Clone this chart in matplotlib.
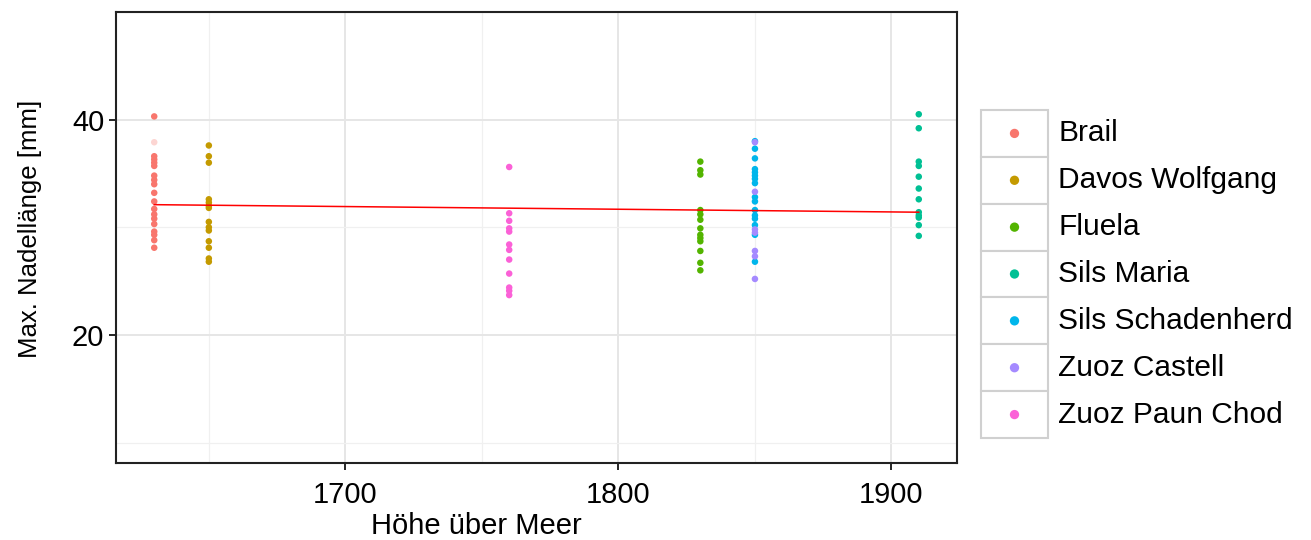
import numpy as np
import matplotlib.pyplot as plt
from matplotlib.patches import Rectangle

plt.rcParams['font.family'] = ['Liberation Sans', 'DejaVu Sans']

# Data
sites = ["Brail", "Davos Wolfgang", "Fluela", "Sils Maria",
         "Sils Schadenherd", "Zuoz Castell", "Zuoz Paun Chod"]
colors = ["#F8766D", "#C49A00", "#53B400", "#00C094",
          "#00B6EB", "#A58AFF", "#FB61D7"]
heights = [1630, 1650, 1830, 1910, 1850, 1850, 1760]

brail = [40.3, 36.6, 36.3, 36.0, 35.7, 34.8, 34.4, 34.0, 33.2, 32.4,
         31.7, 31.2, 30.8, 30.3, 29.6, 29.3, 28.8, 28.1]
brail_faint = [37.9]
davos = [37.6, 36.6, 36.0, 32.6, 32.3, 32.0, 31.8, 30.5, 30.0, 29.7, 28.7,
         28.1, 27.1, 26.8]
fluela = [36.1, 35.3, 34.9, 31.6, 31.2, 30.7, 29.9, 29.3, 29.0, 28.7, 27.8,
          26.7, 26.0]
sils_maria = [40.5, 39.2, 36.1, 35.7, 34.7, 33.6, 32.6, 31.4, 31.1, 30.9,
              30.2, 29.2]
sils_schaden = [38.0, 37.3, 36.4, 35.4, 35.1, 34.8, 34.5, 34.1, 32.8, 32.4,
                31.6, 31.1, 30.8, 30.2, 29.3, 26.8]
zuoz_castell = [37.9, 33.3, 29.8, 29.5, 27.8, 27.3, 25.2]
zuoz_paun = [35.6, 31.3, 30.6, 29.9, 29.6, 28.4, 27.9, 27.0, 25.7, 24.4,
             24.1, 23.7]
values = [brail, davos, fluela, sils_maria, sils_schaden, zuoz_castell, zuoz_paun]

# regression line as drawn in the chart
fit_slope = -0.0025
fit_at_1630 = 32.1

fig = plt.figure(figsize=(13.11, 5.4), dpi=100)
ax = fig.add_axes([116 / 1311, 77 / 540, 841 / 1311, 451 / 540])

for name, col, h, vals in zip(sites, colors, heights, values):
    ax.scatter([h] * len(vals), vals, s=22, color=col, edgecolors="none", zorder=3)
ax.scatter([heights[0]] * len(brail_faint), brail_faint, s=22, color=colors[0],
           alpha=0.3, edgecolors="none", zorder=3)

xs = np.array([min(heights), max(heights)])
ax.plot(xs, fit_at_1630 + fit_slope * (xs - 1630), color="red", linewidth=1.1, zorder=4)

ax.set_xlim(1616, 1924)
ax.set_ylim(8.1, 49.9)
ax.set_xticks([1700, 1800, 1900])
ax.set_yticks([20, 40])
ax.set_xticks([1650, 1750, 1850], minor=True)
ax.set_yticks([10, 30, 50], minor=True)
ax.grid(True, which="major", color="#E6E6E6", linewidth=1.4, zorder=0)
ax.grid(True, which="minor", color="#F0F0F0", linewidth=0.9, zorder=0)
ax.tick_params(which="minor", length=0)
ax.tick_params(which="major", length=5, width=1.2, labelsize=21, color="black")
ax.tick_params(axis="x", pad=8)
for sp in ax.spines.values():
    sp.set_linewidth(1.5)
    sp.set_color("#222222")
ax.set_xlabel("Höhe über Meer", fontsize=21)
ax.xaxis.set_label_coords(0.428, -0.108)
ax.set_ylabel("Max. Nadellänge [mm]", fontsize=18.5)
ax.yaxis.set_label_coords(-0.088, 0.52)

# legend with boxed keys
lax = fig.add_axes([981 / 1311, 102 / 540, 67 / 1311, 328 / 540])
lax.set_xlim(0, 1)
lax.set_ylim(len(sites), 0)
lax.axis("off")
for i, (name, col) in enumerate(zip(sites, colors)):
    lax.add_patch(Rectangle((0, i), 1, 1, facecolor="white",
                            edgecolor="#D0D0D0", linewidth=1.5, clip_on=False))
    lax.scatter([0.5], [i + 0.5], s=45, color=col, edgecolors="none", zorder=3)
    lax.text(1.15, i + 0.5, name, fontsize=21.5, va="center", ha="left",
             transform=lax.transData, clip_on=False)

fig.savefig("out.png", dpi=100)
